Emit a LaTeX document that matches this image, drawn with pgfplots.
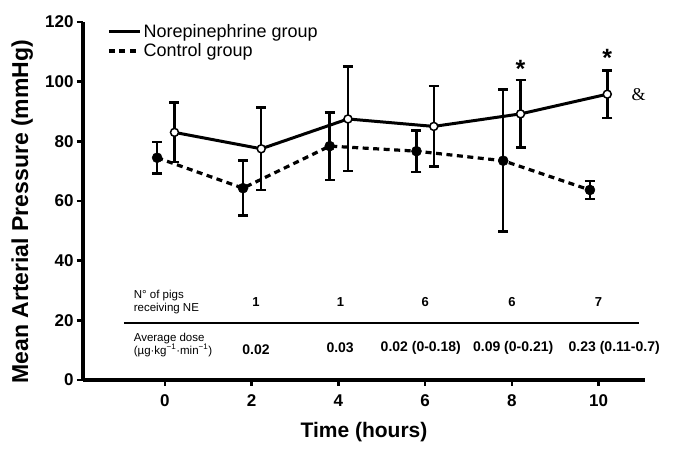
\documentclass[border=0pt]{standalone}
\usepackage{fontspec}
\setmainfont{Liberation Sans}
\newfontfamily\ampfont{Liberation Serif}
\usepackage{pgfplots}
\usepackage{pgfplotstable}
\pgfplotsset{compat=1.18}

% Norepinephrine group (open circles), shifted right of the tick
\pgfplotstableread{
x     y     e
0.22  83.0  10.0
2.22  77.5  13.8
4.22  87.5  17.5
6.20  85.0  13.5
8.20  89.2  11.3
10.20 95.8  7.9
}\nedata

% Control group (filled circles), shifted left of the tick
\pgfplotstableread{
x     y     e
-0.18 74.5  5.2
1.80  64.3  9.2
3.80  78.4  11.3
5.80  76.7  7.0
7.80  73.5  23.8
9.80  63.7  3.0
}\ctrldata

\begin{document}
\begin{tikzpicture}
\begin{axis}[
    name=ax,
    scale only axis,
    width=562pt, height=358pt,
    xmin=-1.89, xmax=11.07,
    ymin=0, ymax=120,
    axis lines=left,
    axis line style={line width=3.2pt, -},
    xtick={0,2,...,10},
    ytick={0,20,...,120},
    tick align=outside,
    major tick length=6pt,
    tick style={line width=2.5pt, black},
    ticklabel style={font=\bfseries\fontsize{17}{17}\selectfont},
    xticklabel style={yshift=-5pt},
    /pgf/number format/assume math mode=true,
    xlabel={Time (hours)},
    ylabel={Mean Arterial Pressure (mmHg)},
    xlabel style={font=\bfseries\fontsize{21}{21}\selectfont,
        at={(axis description cs:0.5,-0.145)}, anchor=center},
    ylabel style={font=\bfseries\fontsize{23}{23}\selectfont,
        at={(axis description cs:-0.108,0.47)}, anchor=center},
    legend style={draw=none, fill=none, at={(0.043,1.0)}, anchor=north west,
        font=\fontsize{18}{18}\selectfont, row sep=1pt, inner sep=0pt},
    legend cell align=left,
    legend image code/.code={\draw[#1] (0pt,0pt) -- (31pt,0pt);},
    clip=false,
]

\addplot[black, line width=3pt, mark=*, mark size=4pt,
    mark options={solid, fill=white, line width=1.5pt},
    error bars/.cd, y dir=both, y explicit,
    error bar style={line width=2.5pt, solid},
    error mark options={line width=2.5pt, mark size=5pt, rotate=90}]
    table[x=x, y=y, y error=e] {\nedata};
\addlegendentry{Norepinephrine group}

\addplot[black, line width=3.2pt, dash pattern=on 6pt off 4.5pt, mark=*, mark size=5pt,
    mark options={solid, line width=0.5pt},
    error bars/.cd, y dir=both, y explicit,
    error bar style={line width=2.5pt, solid},
    error mark options={line width=2.5pt, mark size=5pt, rotate=90}]
    table[x=x, y=y, y error=e] {\ctrldata};
\addlegendentry{Control group}

% significance marks
\node[font=\bfseries\fontsize{25}{25}\selectfont] at (axis cs:8.2,104.3) {*};
\node[font=\bfseries\fontsize{25}{25}\selectfont] at (axis cs:10.2,107.8) {*};
\node[font=\ampfont\fontsize{18}{18}\selectfont, anchor=west] at (axis cs:10.68,95.8) {\&};

% inset table
\node[anchor=west, align=left, font=\fontsize{11.5}{13}\selectfont] at (axis cs:-0.8,26.2)
    {N° of pigs\\receiving NE};
\draw[line width=1.5pt] (axis cs:-0.95,19.1) -- (axis cs:10.93,19.1);
\node[anchor=west, align=left, font=\fontsize{11.5}{13}\selectfont] at (axis cs:-0.8,11.8)
    {Average dose\\(µg·kg\textsuperscript{−1}·min\textsuperscript{−1})};

\node[font=\bfseries\fontsize{13}{13}\selectfont] at (axis cs:2.1,26.2) {1};
\node[font=\bfseries\fontsize{13}{13}\selectfont] at (axis cs:4.05,26.2) {1};
\node[font=\bfseries\fontsize{13}{13}\selectfont] at (axis cs:6.0,26.2) {6};
\node[font=\bfseries\fontsize{13}{13}\selectfont] at (axis cs:8.0,26.2) {6};
\node[font=\bfseries\fontsize{13}{13}\selectfont] at (axis cs:10.0,26.2) {7};

\node[font=\bfseries\fontsize{14}{14}\selectfont] at (axis cs:2.1,10.1) {0.02};
\node[font=\bfseries\fontsize{14}{14}\selectfont] at (axis cs:4.04,10.8) {0.03};
\node[font=\bfseries\fontsize{14}{14}\selectfont] at (axis cs:5.9,10.8) {0.02 (0-0.18)};
\node[font=\bfseries\fontsize{14}{14}\selectfont] at (axis cs:8.03,10.8) {0.09 (0-0.21)};
\node[font=\bfseries\fontsize{14}{14}\selectfont] at (axis cs:10.36,10.8) {0.23 (0.11-0.7)};

\end{axis}
\pgfresetboundingbox
\path (ax.south west) ++(-83pt,-77pt) rectangle ++(685pt,457pt);
\end{tikzpicture}
\end{document}
